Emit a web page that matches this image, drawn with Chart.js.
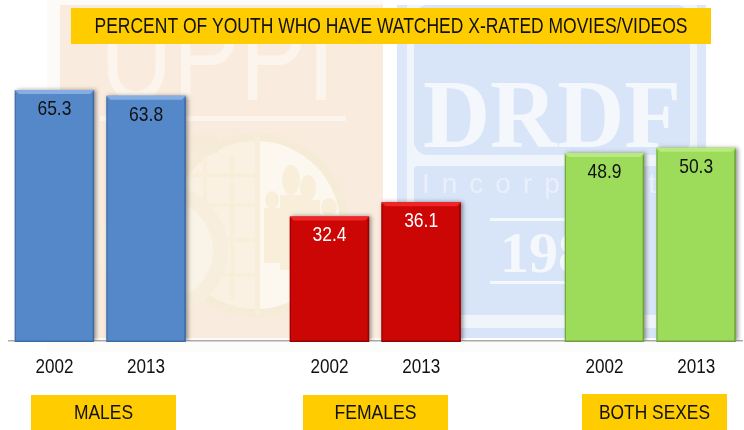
<!DOCTYPE html>
<html><head><meta charset="utf-8">
<style>html,body{margin:0;padding:0;background:#fff}#w{position:relative;width:744px;height:430px}canvas{display:block}</style>
<script src="https://cdn.jsdelivr.net/npm/chart.js@4"></script></head>
<body><div id="w"><canvas id="c" width="744" height="430"></canvas></div>
<script>
const categories = ['2002','2013','','2002','2013','','2002','2013'];
const percentValues = [65.3,63.8,null,32.4,36.1,null,48.9,50.3];
const barColors = ['#5588C8','#5588C8',null,'#CC0505','#CC0505',null,'#9CDC5A','#9CDC5A'];
const bevelTop = ['#86AEE2','#86AEE2',null,'#F02626','#F02626',null,'#B8EA7E','#B8EA7E'];
const bevelSide = ['#3F6BA3','#3F6BA3',null,'#8E0303','#8E0303',null,'#6E9E3E','#6E9E3E'];
const labelColors = ['#111','#111',null,'#fff','#fff',null,'#111','#111'];
const titleText = 'PERCENT OF YOUTH WHO HAVE WATCHED X-RATED MOVIES/VIDEOS';
const groupLabels = ['MALES','FEMALES','BOTH SEXES'];
const FONT = '"Liberation Sans",Arial,sans-serif';

function box(ctx,x,y,w,h,text,size,tw){
  ctx.fillStyle='#FFCC00';ctx.fillRect(x,y,w,h);
  ctx.fillStyle='#111';ctx.font=size+'px '+FONT;ctx.textAlign='center';ctx.textBaseline='middle';
  ctx.fillText(text,x+w/2,y+h/2+1,tw);
}
const background={id:'background',beforeDraw(chart){
  const c=chart.ctx;c.save();
  c.fillStyle='#FDFBF8';c.fillRect(47,0,336,341);
  c.fillStyle='#FCFCFB';c.fillRect(47,341,673,11);
  c.fillStyle='#F9EBDD';c.fillRect(60,5,323,333);
  c.fillStyle='#DCE7F9';c.fillRect(397,5,309,333);
  c.fillStyle='#F0F5FC';c.fillRect(407,5,290,333);
  c.fillStyle='#D8E4F8';c.beginPath();c.roundRect(414,5,276,150,14);c.fill();
  c.beginPath();c.roundRect(414,166,276,149,4);c.fill();
  c.fillRect(407,328,290,10);
  // faded UPPI logo
  c.fillStyle='#FCF5ED';c.textAlign='left';c.textBaseline='alphabetic';
  c.font='130px "Liberation Sans"';c.fillText('UPPI',100,100,235);
  c.fillRect(100,116,246,5);
  c.fillStyle='#F6EBD6';c.beginPath();c.arc(256,225,92,0,Math.PI*2);c.fill();
  c.fillStyle='#FAF1E2';c.beginPath();c.arc(256,225,84,0,Math.PI*2);c.fill();
  c.fillStyle='#FCF7EF';c.beginPath();c.arc(256,225,84,-Math.PI/2,Math.PI/2);c.fill();
  c.fillStyle='#F8EEDA';c.fillRect(255,135,5,180);
  c.strokeStyle='#F8EEDA';c.lineWidth=4;
  [175,205,240,275].forEach(y=>{c.beginPath();c.moveTo(190,y);c.lineTo(255,y);c.stroke();});
  [205,232].forEach(x=>{c.beginPath();c.moveTo(x,155);c.lineTo(x,300);c.stroke();});
  c.fillStyle='#F8EEDA';
  [[291,180,9,15,280,195,24,75],[308,188,8,13,296,200,24,70],[272,200,7,9,264,208,20,55],[329,207,8,9,318,215,22,45]].forEach(p=>{
    c.beginPath();c.ellipse(p[0],p[1],p[2],p[3],0,0,7);c.fill();c.fillRect(p[4],p[5],p[6],p[7]);});
  c.fillStyle='#F7EEDD';c.beginPath();c.arc(163,250,65,0,Math.PI*2);c.fill();
  c.fillStyle='#FAF3E8';c.beginPath();c.arc(163,250,50,0,Math.PI*2);c.fill();
  c.fillStyle='#F6EBD6';c.fillRect(186,135,32,18);
  // faded DRDF logo
  c.fillStyle='#F4F8FD';c.font='bold 98px "Liberation Serif"';c.fillText('DRDF',423,147,258);
  c.fillStyle='#E9F0FB';c.font='28px "Liberation Sans"';c.letterSpacing='12px';c.fillText('Incorporated',422,193);c.letterSpacing='0px';
  c.fillStyle='#F4F8FD';c.font='bold 58px "Liberation Serif"';c.fillText('1987',500,272);
  c.fillRect(490,218,150,3);c.fillRect(490,281,150,3);
  c.restore();
}};
const foreground={id:'foreground',
  beforeDatasetDraw(chart){const c=chart.ctx;c.save();c.shadowColor='rgba(50,50,50,.5)';c.shadowBlur=4;c.shadowOffsetX=2;c.shadowOffsetY=0;},
  afterDatasetDraw(chart){chart.ctx.restore();},
  afterDraw(chart){
  const c=chart.ctx;c.save();
  chart.getDatasetMeta(0).data.forEach((b,i)=>{
    if(percentValues[i]==null)return;
    const l=b.x-b.width/2,r=b.x+b.width/2,t=b.y,bt=b.base+1,d=4;
    c.fillStyle=bevelSide[i];c.fillRect(l,b.base,b.width,1);
    c.fillStyle=bevelTop[i];c.beginPath();c.moveTo(l,t);c.lineTo(r,t);c.lineTo(r-d,t+d);c.lineTo(l+d,t+d);c.fill();
    c.fillStyle=bevelSide[i];c.beginPath();c.moveTo(r,t);c.lineTo(r,bt);c.lineTo(r-1.5,bt-1.5);c.lineTo(r-1.5,t+d);c.fill();
    c.beginPath();c.moveTo(l,t);c.lineTo(l,bt);c.lineTo(l+1,bt-1);c.lineTo(l+1,t+d);c.fill();
    c.beginPath();c.moveTo(l,bt);c.lineTo(r,bt);c.lineTo(r-1.5,bt-1.5);c.lineTo(l+1.5,bt-1.5);c.fill();
    c.fillStyle=labelColors[i];c.font='21px '+FONT;c.textAlign='center';c.textBaseline='middle';
    c.fillText(percentValues[i].toFixed(1),b.x,t+19,34);
  });
  const xs=chart.scales.x;
  c.fillStyle='#111';c.font='21px '+FONT;c.textAlign='center';c.textBaseline='middle';
  categories.forEach((t,i)=>{if(t)c.fillText(t,xs.getPixelForTick(i),367,38);});
  box(c,71,8,640,36,titleText,22,593);
  box(c,31,395,145,35,groupLabels[0],21,59);
  box(c,303,395,145,35,groupLabels[1],21,82);
  box(c,582,394,145,36,groupLabels[2],21,111);
  c.restore();
}};
new Chart(document.getElementById('c'),{
  type:'bar',
  data:{labels:categories,datasets:[{data:percentValues,backgroundColor:barColors,categoryPercentage:1,barPercentage:0.865,borderWidth:0}]},
  options:{responsive:false,animation:false,
    layout:{padding:{left:8.6,right:2,top:72,bottom:0}},
    plugins:{legend:{display:false},tooltip:{enabled:false},title:{display:false}},
    scales:{
      x:{afterFit(s){s.height=89;},grid:{display:false,drawTicks:false},border:{display:true,color:'#ABABAB',width:1.5},
         ticks:{display:false}},
      y:{display:false,min:0,max:70}
    }},
  plugins:[background,foreground]
});
</script></body></html>
